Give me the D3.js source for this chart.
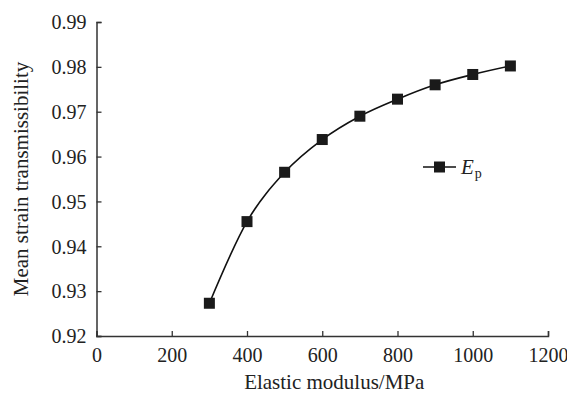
<!DOCTYPE html>
<html><head><meta charset="utf-8">
<script src="https://cdn.jsdelivr.net/npm/d3@7/dist/d3.min.js"></script>
<style>body{margin:0;background:#fff}svg{display:block}</style>
</head><body>
<script>
const modulus = [300, 400, 500, 600, 700, 800, 900, 1000, 1100];
const transmissibility = [0.9273, 0.9455, 0.9565, 0.9638, 0.9690, 0.9728, 0.9760, 0.9783, 0.9802];
const xTicks = [0, 200, 400, 600, 800, 1000, 1200];
const yTicks = [0.92, 0.93, 0.94, 0.95, 0.96, 0.97, 0.98, 0.99];

const W = 567, H = 395;
const svg = d3.select("body").append("svg").attr("width", W).attr("height", H);
const font = "'Liberation Serif','Times New Roman',serif";
const fs = 20;
const x = d3.scaleLinear().domain([0, 1200]).range([96.5, 548]);
const y = d3.scaleLinear().domain([0.92, 0.99]).range([336, 22]);
const ink = "#333";

const xa = svg.append("g").attr("transform", `translate(0,${y(0.92)})`)
  .call(d3.axisBottom(x).tickValues(xTicks).tickSize(-5).tickPadding(10).tickFormat(d3.format("d")));
const ya = svg.append("g").attr("transform", `translate(${x(0)},0)`)
  .call(d3.axisLeft(y).tickValues(yTicks).tickSize(-5).tickPadding(10).tickFormat(d3.format(".2f")));
[xa, ya].forEach(a => {
  a.select(".domain").attr("stroke", ink).attr("stroke-width", 1.5);
  a.selectAll(".tick line").attr("stroke", ink).attr("stroke-width", 1.3);
  a.selectAll("text").attr("font-family", font).attr("font-size", fs).attr("fill", "#222");
});
xa.selectAll("text").attr("y", 26).attr("dy", null);
ya.selectAll("text").attr("x", -10).attr("dy", "0.34em");

svg.append("text").attr("x", (x(0) + x(1200)) / 2 + 12).attr("y", 389)
  .attr("text-anchor", "middle").attr("font-family", font).attr("font-size", 21).attr("fill", "#222")
  .text("Elastic modulus/MPa");
svg.append("text").attr("transform", `translate(28,${(y(0.92) + y(0.99)) / 2}) rotate(-90)`)
  .attr("text-anchor", "middle").attr("font-family", font).attr("font-size", 21).attr("fill", "#222")
  .text("Mean strain transmissibility");

const data = modulus.map((m, i) => [m, transmissibility[i]]);
svg.append("path").datum(data)
  .attr("d", d3.line().x(d => x(d[0])).y(d => y(d[1])).curve(d3.curveMonotoneX))
  .attr("fill", "none").attr("stroke", "#111").attr("stroke-width", 1.6);
const s = 11;
svg.selectAll("rect.pt").data(data).join("rect").attr("class", "pt")
  .attr("x", d => x(d[0]) - s / 2).attr("y", d => y(d[1]) - s / 2)
  .attr("width", s).attr("height", s).attr("fill", "#1a1a1a");

// legend
const lg = svg.append("g");
lg.append("line").attr("x1", 423).attr("x2", 456).attr("y1", 167).attr("y2", 167)
  .attr("stroke", "#111").attr("stroke-width", 1.6);
lg.append("rect").attr("x", 439.5 - s / 2).attr("y", 167 - s / 2).attr("width", s).attr("height", s).attr("fill", "#1a1a1a");
const lt = lg.append("text").attr("x", 461).attr("y", 174).attr("font-family", font).attr("font-size", 21).attr("fill", "#222");
lt.append("tspan").attr("font-style", "italic").text("E");
lt.append("tspan").attr("font-size", 14).attr("dy", 4).attr("dx", 1).text("p");
</script>
</body></html>
